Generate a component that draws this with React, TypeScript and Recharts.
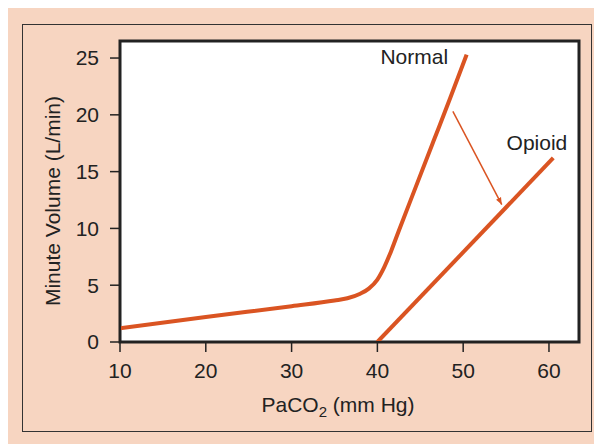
import {
    LineChart,
    Line,
    XAxis,
    YAxis,
    ReferenceArea,
    ReferenceDot
} from 'recharts';

// curve values (PaCO2 mm Hg -> minute volume L/min)
const normalX = [10, 20, 30, 35, 36.5, 38, 39, 40, 40.8, 41.6, 42.5, 44.5, 46.5, 48.5, 50.4];
const normalY = [1.2, 2.2, 3.15, 3.65, 3.85, 4.25, 4.7, 5.5, 6.6, 8.0, 9.8, 13.7, 17.6, 21.5, 25.3];

const opioidX = [40, 60.5];
const opioidY = [0, 16.2];

// shift arrow from normal curve to opioid curve
const arrowX = [48.8, 54.5];
const arrowY = [20.3, 12.1];

const xTicks = [10, 20, 30, 40, 50, 60];
const yTicks = [0, 5, 10, 15, 20, 25];

const X_DOMAIN: [number, number] = [10, 63.5];
const Y_DOMAIN: [number, number] = [0, 26.5];

const ORANGE = '#da5422';
const INK = '#222222';
const FONT = '"Liberation Sans", Arial, Helvetica, sans-serif';
const FS = 21;

const toPoints = (xs: number[], ys: number[]) => xs.map((x, i) => ({ x, y: ys[i] }));

const normalData = toPoints(normalX, normalY);
const opioidData = toPoints(opioidX, opioidY);
const arrowData = toPoints(arrowX, arrowY);

function XTitle() {
    return (
        <text x={330} y={404} textAnchor="middle" fontSize={FS} fill={INK} fontFamily={FONT}>
            PaCO
            <tspan fontSize={15} dy={5}>2</tspan>
            <tspan dy={-5}> (mm Hg)</tspan>
        </text>
    );
}

function YTitle() {
    return (
        <text
            x={0}
            y={0}
            transform="translate(46, 193) rotate(-90)"
            textAnchor="middle"
            dominantBaseline="middle"
            fontSize={FS}
            fill={INK}
            fontFamily={FONT}
        >
            Minute Volume (L/min)
        </text>
    );
}

export default function App() {
    const tick = { fill: INK, fontSize: FS, fontFamily: FONT };

    return (
        <div style={{
            position: 'relative',
            width: 594,
            height: 436,
            background: '#f7d5c1',
            fontFamily: FONT
        }}>
            <style>{'body { overflow: hidden; }'}</style>
            {/* outer frame */}
            <div style={{
                position: 'absolute',
                left: 14,
                top: 16,
                width: 570,
                height: 408,
                border: '1.5px solid #333',
                boxSizing: 'border-box'
            }} />
            <div style={{ position: 'absolute', left: 0, top: 0 }}>
                <LineChart
                    width={594}
                    height={436}
                    margin={{ top: 33, right: 23, left: 52, bottom: 42 }}
                >
                    <defs>
                        <marker
                            id="arrowHead"
                            viewBox="0 0 10 10"
                            refX={10}
                            refY={5}
                            markerWidth={7}
                            markerHeight={7}
                            orient="auto"
                            markerUnits="userSpaceOnUse"
                        >
                            <path d="M0,1 L10,5 L0,9 z" fill={ORANGE} />
                        </marker>
                    </defs>
                    <ReferenceArea
                        x1={X_DOMAIN[0]}
                        x2={X_DOMAIN[1]}
                        y1={Y_DOMAIN[0]}
                        y2={Y_DOMAIN[1]}
                        fill="#ffffff"
                        fillOpacity={1}
                        stroke={INK}
                        strokeWidth={3}
                    />
                    <XAxis
                        type="number"
                        dataKey="x"
                        domain={X_DOMAIN}
                        ticks={xTicks}
                        allowDataOverflow
                        height={60}
                        tickSize={10}
                        tickMargin={11}
                        tick={tick}
                        axisLine={{ stroke: INK, strokeWidth: 2 }}
                        tickLine={{ stroke: INK, strokeWidth: 1.5 }}
                        label={<XTitle />}
                    />
                    <YAxis
                        type="number"
                        domain={Y_DOMAIN}
                        ticks={yTicks}
                        allowDataOverflow
                        width={60}
                        tickSize={10}
                        tickMargin={11}
                        tick={tick}
                        axisLine={{ stroke: INK, strokeWidth: 2 }}
                        tickLine={{ stroke: INK, strokeWidth: 1.5 }}
                        label={<YTitle />}
                    />
                    <Line
                        data={normalData}
                        dataKey="y"
                        type="monotone"
                        stroke={ORANGE}
                        strokeWidth={4}
                        dot={false}
                        activeDot={false}
                        isAnimationActive={false}
                    />
                    <Line
                        data={opioidData}
                        dataKey="y"
                        type="linear"
                        stroke={ORANGE}
                        strokeWidth={4}
                        dot={false}
                        activeDot={false}
                        isAnimationActive={false}
                    />
                    <Line
                        data={arrowData}
                        dataKey="y"
                        type="linear"
                        stroke={ORANGE}
                        strokeWidth={1.5}
                        dot={false}
                        activeDot={false}
                        markerEnd="url(#arrowHead)"
                        isAnimationActive={false}
                    />
                    <ReferenceDot
                        x={44.3}
                        y={25.1}
                        r={0}
                        fill="none"
                        stroke="none"
                        label={{ value: 'Normal', position: 'center', fill: INK, fontSize: FS, fontFamily: FONT }}
                    />
                    <ReferenceDot
                        x={58.6}
                        y={17.6}
                        r={0}
                        fill="none"
                        stroke="none"
                        label={{ value: 'Opioid', position: 'center', fill: INK, fontSize: FS, fontFamily: FONT }}
                    />
                </LineChart>
            </div>
        </div>
    );
}
